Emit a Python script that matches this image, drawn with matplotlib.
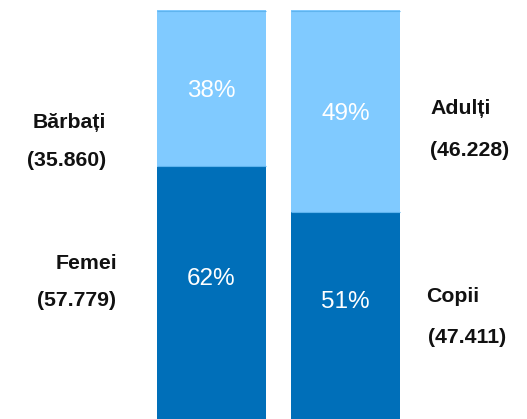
import matplotlib.pyplot as plt

plt.rcParams['font.family'] = ['Liberation Sans', 'DejaVu Sans']

# grupuri: sex si varsta
groups = ["Sex", "Vârstă"]
bottom_pct = [62, 51]
top_pct = [38, 49]
bottom_names = ["Femei", "Copii"]
bottom_counts = ["(57.779)", "(47.411)"]
top_names = ["Bărbați", "Adulți"]
top_counts = ["(35.860)", "(46.228)"]

dark = "#006FB9"
light = "#80CAFF"
w = 0.813

fig = plt.figure(figsize=(5.27, 4.19), dpi=100)
ax = fig.add_axes([0, -0.0095, 1, 0.985])
x = list(range(len(groups)))
ax.bar(x, bottom_pct, width=w, color=dark)
ax.bar(x, top_pct, bottom=bottom_pct, width=w, color=light)
# linii subtiri la granita si sus
for i in x:
    ax.hlines([bottom_pct[i] + 0.15, bottom_pct[i] + top_pct[i] - 0.1],
              i - w / 2, i + w / 2, color="#5FB4EE", linewidth=0.8)
ax.set_xlim(-1.578, 2.354)
ax.set_ylim(0, 100)
ax.axis("off")

for i in x:
    ax.text(i, bottom_pct[i] / 2 + 3.8, f"{bottom_pct[i]}%", color="white",
            fontsize=17.5, ha="center", va="center")
    ax.text(i, bottom_pct[i] + top_pct[i] / 2 - 0.6, f"{top_pct[i]}%", color="white",
            fontsize=17.5, ha="center", va="center")

# etichete laterale
W, H = 527, 419
def lab(s, px, py):
    fig.text(px / W, 1 - py / H, s, fontsize=15.3, fontweight="bold",
             ha="center", va="center", color="#111111")

lab(top_names[0], 69, 122)
lab(top_counts[0], 67, 160)
lab(bottom_names[0], 86, 263)
lab(bottom_counts[0], 77, 300)
lab(top_names[1], 461, 108)
lab(top_counts[1], 470, 150)
lab(bottom_names[1], 453, 297)
lab(bottom_counts[1], 467, 337)

fig.savefig("out.png", dpi=100)
